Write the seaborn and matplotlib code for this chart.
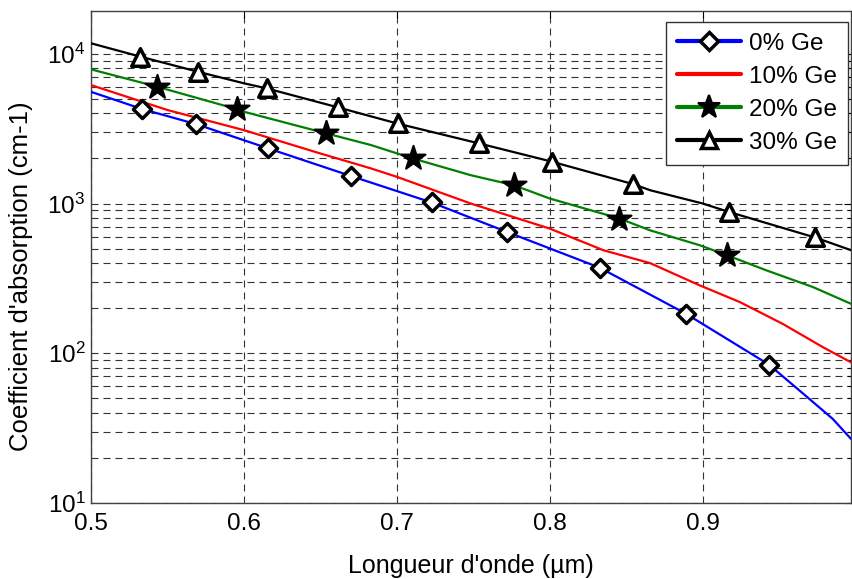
import numpy as np
import pandas as pd
import seaborn as sns
import matplotlib.pyplot as plt
from matplotlib.lines import Line2D
from matplotlib.ticker import LogLocator, FixedLocator

# curves (wavelength in um, alpha in cm-1)
wl_0 = [0.500, 0.5334, 0.5687, 0.6159, 0.6697, 0.7227, 0.7720, 0.8326, 0.8889, 0.9433, 0.9633, 0.985, 0.997]
alpha_0 = [5570, 4276, 3390, 2333, 1530, 1016, 646, 373, 184, 84, 56.4, 36.5, 26.8]

wl_10 = [0.500, 0.55, 0.60, 0.65, 0.6832, 0.70, 0.7483, 0.80, 0.8352, 0.8656, 0.8981, 0.9242, 0.9524, 0.9785, 0.997]
alpha_10 = [6180, 4210, 3090, 2158, 1714, 1507, 1000, 680, 487, 400, 284, 220, 157, 110, 87]

wl_20 = [0.500, 0.5431, 0.5957, 0.60, 0.6539, 0.6832, 0.7104, 0.7483, 0.7765, 0.80, 0.8456, 0.8656, 0.8982, 0.9160, 0.9416, 0.972, 0.997]
alpha_20 = [7870, 6030, 4257, 4100, 2938, 2455, 1999, 1546, 1325, 1080, 794, 662, 526, 451, 358, 277, 214]

wl_30 = [0.500, 0.5322, 0.5698, 0.60, 0.6148, 0.6615, 0.70, 0.7537, 0.80, 0.8547, 0.8656, 0.90, 0.9171, 0.9735, 0.997]
alpha_30 = [11750, 9570, 7590, 6350, 5875, 4385, 3428, 2520, 1919, 1346, 1227, 1000, 879, 593, 488]

# marker positions
mk_wl_0 = [0.5334, 0.5687, 0.6159, 0.6697, 0.7227, 0.7720, 0.8326, 0.8889, 0.9433]
mk_alpha_0 = [4276, 3390, 2333, 1530, 1016, 646, 373, 184, 84]
mk_wl_20 = [0.5431, 0.5957, 0.6539, 0.7104, 0.7765, 0.8456, 0.9160]
mk_alpha_20 = [6030, 4257, 2938, 1999, 1325, 794, 451]
mk_wl_30 = [0.5322, 0.5698, 0.6148, 0.6615, 0.7006, 0.7537, 0.8015, 0.8547, 0.9171, 0.9735]
mk_alpha_30 = [9570, 7590, 5875, 4385, 3428, 2520, 1897, 1346, 879, 593]

labels = ['0% Ge', '10% Ge', '20% Ge', '30% Ge']
colors = ['#0000ff', '#ff0000', '#008000', '#000000']

sns.set_style('white')
plt.rcParams['font.family'] = ['Liberation Sans', 'DejaVu Sans']
plt.rcParams['mathtext.fontset'] = 'custom'
plt.rcParams['mathtext.rm'] = 'Liberation Sans'
plt.rcParams['text.color'] = 'black'
plt.rcParams['axes.labelcolor'] = 'black'

fig = plt.figure(figsize=(8.52, 5.79), dpi=100)
ax = fig.add_axes([91 / 852, 76 / 579, 760 / 852, 492 / 579])

lines = [(wl_0, alpha_0), (wl_10, alpha_10), (wl_20, alpha_20), (wl_30, alpha_30)]
for (x, y), c in zip(lines, colors):
    df = pd.DataFrame({'wl': x, 'alpha': y})
    sns.lineplot(data=df, x='wl', y='alpha', color=c, linewidth=1.6, sort=False,
                 estimator=None, ax=ax, zorder=3)

# markers
sns.scatterplot(x=mk_wl_0, y=mk_alpha_0, marker='D', s=85, facecolor='white',
                edgecolor='black', linewidth=2.5, ax=ax, zorder=4)
sns.scatterplot(x=mk_wl_20, y=mk_alpha_20, marker='*', s=330, facecolor='black',
                edgecolor='black', linewidth=1.5, ax=ax, zorder=4)
sns.scatterplot(x=mk_wl_30, y=mk_alpha_30, marker='^', s=160, facecolor='white',
                edgecolor='black', linewidth=2.5, ax=ax, zorder=4)

ax.set_yscale('log')
ax.set_xlim(0.5, 0.997)
ax.set_ylim(10, 19300)
ax.xaxis.set_major_locator(FixedLocator([0.5, 0.6, 0.7, 0.8, 0.9, 1.0]))
ax.set_xticklabels(['0.5', '0.6', '0.7', '0.8', '0.9', '1'])
ax.yaxis.set_major_locator(LogLocator(base=10, numticks=10))
ax.yaxis.set_minor_locator(LogLocator(base=10, subs=np.arange(2, 10), numticks=20))

grid_kw = dict(color='0.2', linewidth=0.8, linestyle=(0, (6.3, 4.5)))
ax.grid(True, which='major', axis='both', **grid_kw)
ax.grid(True, which='minor', axis='y', **grid_kw)
ax.set_axisbelow(True)

ax.tick_params(direction='in', which='both', top=True, right=True, labelsize=17.5,
               colors='black', width=0.8)
ax.tick_params(which='major', length=5)
ax.tick_params(axis='x', which='major', pad=7)
ax.tick_params(axis='y', which='major', pad=4)
ax.tick_params(which='minor', length=3)
for s in ax.spines.values():
    s.set_color('0.25')
    s.set_linewidth(1.0)

ax.set_xlabel("Longueur d'onde (µm)", fontsize=18, labelpad=14)
ax.set_ylabel("Coefficient d'absorption (cm-1)", fontsize=18.5)
ax.yaxis.set_label_coords(-0.076, 0.46)

handles = [
    Line2D([], [], color=colors[0], lw=3, marker='D', ms=9, mfc='white', mec='black', mew=2.5),
    Line2D([], [], color=colors[1], lw=3),
    Line2D([], [], color=colors[2], lw=3, marker='*', ms=17, mfc='black', mec='black', mew=1.5),
    Line2D([], [], color=colors[3], lw=3, marker='^', ms=12, mfc='white', mec='black', mew=2.5),
]
leg = ax.legend(handles, labels, loc='upper right', bbox_to_anchor=(0.996, 0.978),
                borderaxespad=0, fontsize=17.5, frameon=True, fancybox=False,
                edgecolor='0.2', framealpha=1, handlelength=2.6, handletextpad=0.35,
                labelspacing=0.45, borderpad=0.45)
leg.get_frame().set_linewidth(1.0)

plt.savefig('out.png', dpi=100)
